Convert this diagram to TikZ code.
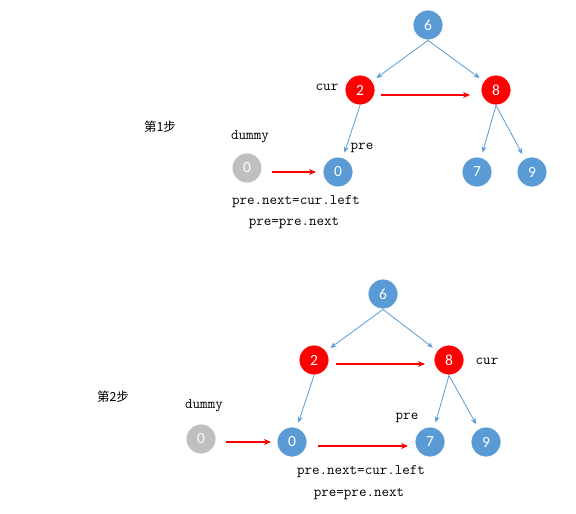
\documentclass[tikz,border=0pt]{standalone}
\usepackage{fontspec}
\setmainfont{Carlito}
\newfontfamily\cjkf{Noto Sans CJK SC}
\usetikzlibrary{arrows.meta}
\definecolor{nblue}{HTML}{5B9BD5}
\definecolor{nred}{HTML}{FF0000}
\definecolor{ngrey}{HTML}{BFBFBF}
\tikzset{
  nd/.style={circle,minimum size=30pt,inner sep=0pt,text=white,font=\fontsize{15.5}{15.5}\selectfont,draw=white,line width=0.8pt},
  bn/.style={nd,fill=nblue},
  rn/.style={nd,fill=nred},
  gn/.style={nd,fill=ngrey},
  lbl/.style={font=\ttfamily\fontsize{14.6}{15}\selectfont,inner sep=0pt},
  stp/.style={font=\cjkf\fontsize{12.5}{12.5}\selectfont,inner sep=0pt},
  tarrow/.style={draw=nblue,line width=0.8pt,-{Stealth[length=6pt,width=5pt]},shorten >=5pt},
  rarrow/.style={draw=nred,line width=1.1pt,-{Stealth[length=7pt,width=6pt]}},
}
\begin{document}
\begin{tikzpicture}[x=1pt,y=-1pt]
\useasboundingbox (0,0) rectangle (576,514);
% ---- step 1
\node[bn] (a6) at (428,25) {6};
\node[rn] (a2) at (360,90) {2};
\node[rn] (a8) at (496,90) {8};
\node[bn] (a0) at (338,172) {0};
\node[bn] (a7) at (477,172) {7};
\node[bn] (a9) at (532,172) {9};
\node[gn] (ad) at (247,168) {0};
\node[lbl] (acur) at (327,87) {cur};
\node[lbl] (adum) at (250,137) {dummy};
\node[lbl] (apre) at (362,148) {pre};
\node[stp] (as) at (160,127) {第1步};
\node[lbl] (ae1) at (296,202) {pre.next=cur.left};
\node[lbl] (ae2) at (294,223) {pre=pre.next};
\draw[tarrow] (a6.south) -- (a2);
\draw[tarrow] (a6.south) -- (a8);
\draw[tarrow] (a2.south) -- (a0);
\draw[tarrow] (a8.south) -- (a7);
\draw[tarrow] (a8.south) -- (a9);
\coordinate (r1s) at (381,95); \coordinate (r1e) at (470,95);
\draw[rarrow] (r1s) -- (r1e);
\coordinate (r2s) at (272,172); \coordinate (r2e) at (316,172);
\draw[rarrow] (r2s) -- (r2e);
% ---- step 2
\node[bn] (b6) at (383,294) {6};
\node[rn] (b2) at (314,360) {2};
\node[rn] (b8) at (449,360) {8};
\node[bn] (b0) at (292,442) {0};
\node[bn] (b7) at (430,442) {7};
\node[bn] (b9) at (486,442) {9};
\node[gn] (bd) at (201,439) {0};
\node[lbl] (bcur) at (487,361) {cur};
\node[lbl] (bdum) at (204,406) {dummy};
\node[lbl] (bpre) at (407,418) {pre};
\node[stp] (bs) at (113,397) {第2步};
\node[lbl] (be1) at (361,472) {pre.next=cur.left};
\node[lbl] (be2) at (359,494) {pre=pre.next};
\draw[tarrow] (b6.south) -- (b2);
\draw[tarrow] (b6.south) -- (b8);
\draw[tarrow] (b2.south) -- (b0);
\draw[tarrow] (b8.south) -- (b7);
\draw[tarrow] (b8.south) -- (b9);
\coordinate (s1s) at (336,364); \coordinate (s1e) at (425,364);
\draw[rarrow] (s1s) -- (s1e);
\coordinate (s2s) at (226,442); \coordinate (s2e) at (271,442);
\draw[rarrow] (s2s) -- (s2e);
\coordinate (s3s) at (318,446); \coordinate (s3e) at (408,446);
\draw[rarrow] (s3s) -- (s3e);
\end{tikzpicture}
\end{document}
